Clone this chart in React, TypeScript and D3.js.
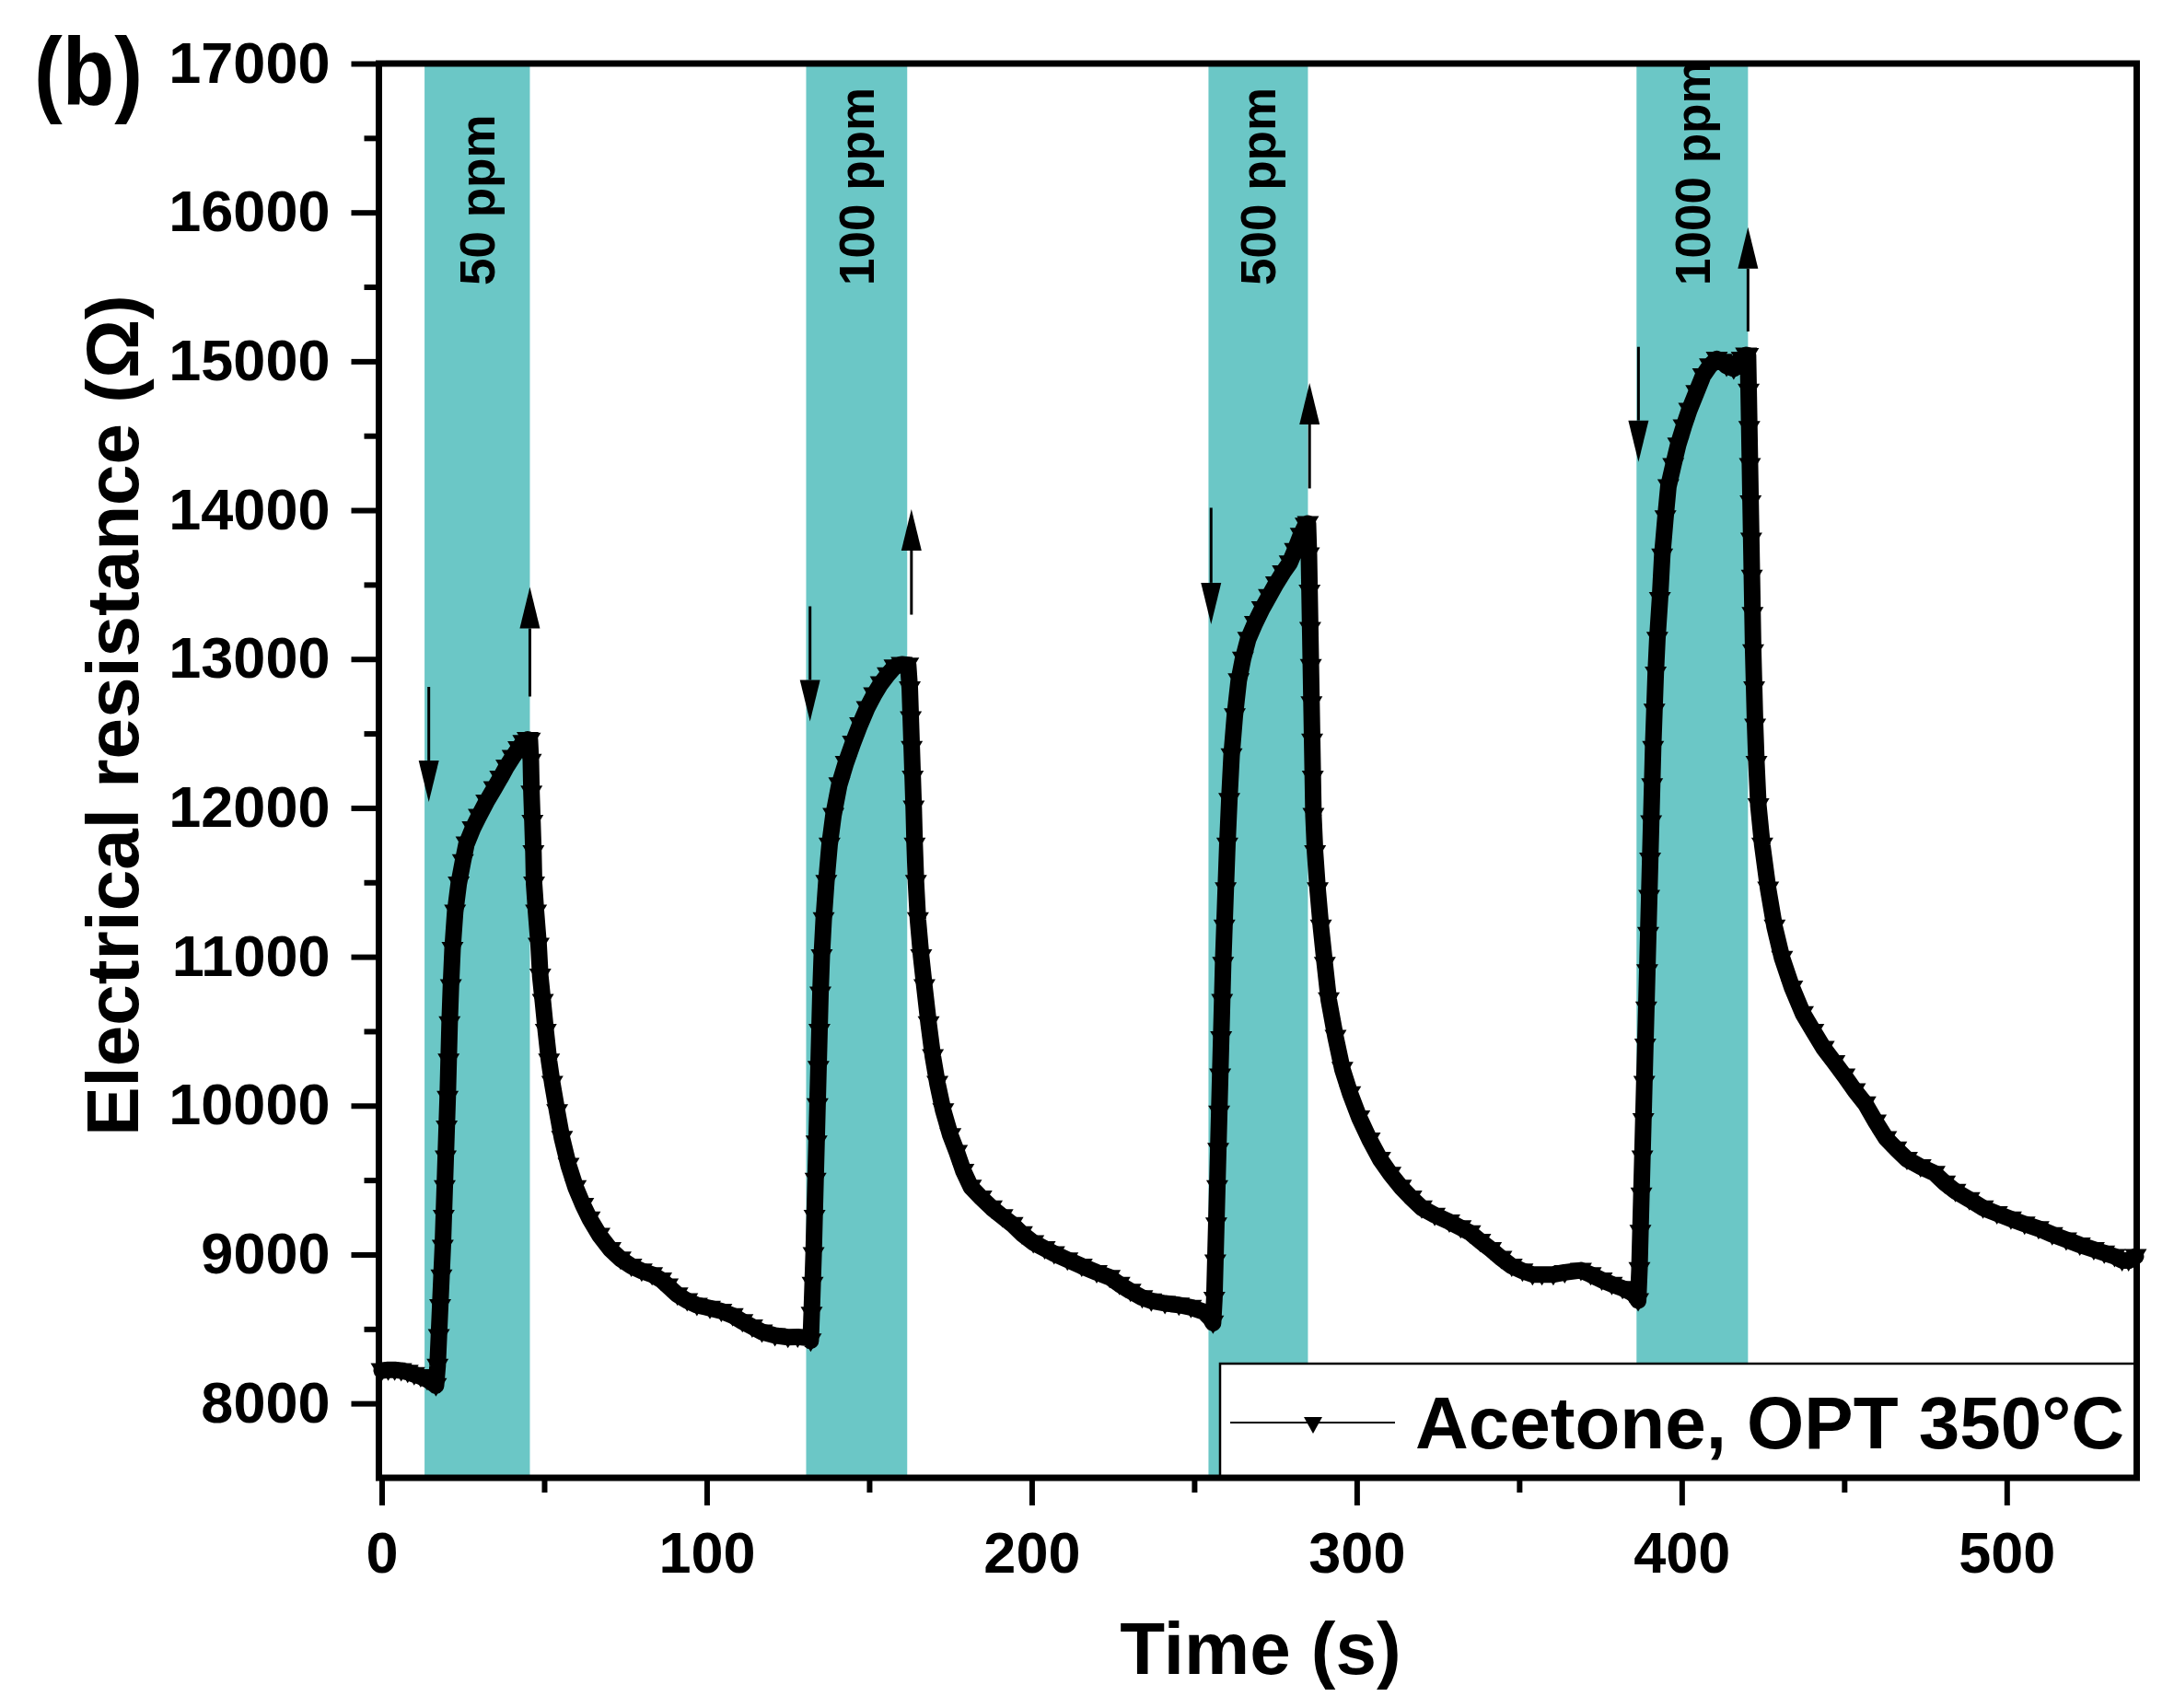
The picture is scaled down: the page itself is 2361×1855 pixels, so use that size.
import { useEffect, useRef } from 'react'
import * as d3 from 'd3'

// time (s) and resistance (Ω)
const times = [
  0, 2, 4, 6, 8, 10, 12, 14, 15.5, 16.7,
  17.2, 17.6, 18.0, 18.4, 18.8, 19.1, 19.4, 19.7, 20.0, 20.3, 20.6, 20.9, 21.3, 21.8, 22.6, 23.7,
  25.0, 26.1, 28.0, 29.9, 32.2, 34.6, 36.5, 38.4, 40.3, 42.1, 43.6, 44.9, 45.6,
  45.9, 46.1, 46.4, 46.7, 46.9, 47.5, 48.3, 48.8, 49.6, 50.5, 51.5, 52.5, 54.0, 55.5, 57.5, 59.7,
  62.0, 64.0, 67.0, 70.4, 73.5, 76.8, 80.0, 83.2, 86.0, 88.0, 91.0, 94.0, 97.0, 101, 104.5, 108,
  111, 114, 117, 121, 125, 128, 131, 132,
  132.3, 132.6, 132.9, 133.2, 133.5, 133.8, 134.1, 134.4, 134.7, 135.0, 135.4, 136.0, 136.8, 137.8,
  139.0, 140.8, 142.8, 145.0, 147.2, 149.3, 151.5, 153.6, 155.7, 157.8, 160.0, 162.0,
  162.5, 162.8, 163.1, 163.4, 163.7, 164.0, 164.4, 165.0, 166.0, 167.0, 168.3, 169.6, 171.0, 172.8,
  175.0, 177.0, 179.0, 181.3, 184.5, 187.7, 191.0, 194.1, 197.0, 200.5, 204.0, 206.9, 211.0, 215.4,
  220.0, 224.0, 227.0, 230.4, 234.0, 236.8, 241.0, 245.3, 249.0, 253.0, 255.0, 255.8,
  256.2, 256.5, 256.8, 257.1, 257.4, 257.7, 258.0, 258.3, 258.6, 258.9, 259.3, 259.7, 260.2, 260.8,
  261.5, 262.5, 263.7, 265.0, 266.6, 268.7, 270.9, 273.0, 275.2, 277.3, 279.4, 281.0, 282.8, 284.3, 285.0,
  285.3, 285.5, 285.7, 285.9, 286.1, 286.3, 286.5, 286.7, 287.2, 288.0, 289.0, 290.2, 291.4, 293.5,
  295.6, 298.0, 300.8, 304.0, 307.2, 310.4, 313.6, 316.8, 320.0, 324.0, 328.5, 332.0, 334.9, 338.0,
  341.3, 344.5, 347.7, 351.0, 354.1, 357.0, 360.5, 364.0, 369.0, 372.0, 375.4, 378.5, 381.8, 384.0,
  385.5, 386.6,
  387.0, 387.3, 387.6, 387.9, 388.2, 388.5, 388.8, 389.1, 389.4, 389.7, 390.0, 390.3, 390.6, 390.9,
  391.2, 391.6, 392.0, 392.5, 393.3, 394.0, 395.0, 395.9, 397.4, 398.9, 400.6, 402.3, 404.5, 406.6,
  408.7, 410.8, 412.3, 413.8, 416.0, 417.3, 418.5, 419.8, 420.4,
  420.6, 420.8, 421.0, 421.2, 421.4, 421.6, 421.8, 422.0, 422.3, 422.6, 423.0, 423.6, 424.8, 426.6,
  428.6, 430.9, 434.0, 437.3, 440.5, 443.7, 447.0, 450.1, 453.3, 456.5, 459.7, 462.9, 466.0, 469.3,
  473.5, 477.8, 481.0, 484.2, 488.5, 492.7, 497.0, 501.3, 505.5, 509.8, 514.0, 518.3, 522.5, 526.8,
  530.0, 533.2, 535.5, 537.5, 539.7,
]
const resistance = [
  8220, 8225, 8225, 8220, 8210, 8195, 8180, 8160, 8140, 8120,
  8250, 8450, 8650, 8850, 9050, 9250, 9450, 9650, 9850, 10050, 10300, 10550, 10800, 11050, 11300, 11490,
  11640, 11758, 11860, 11944, 12040, 12129, 12200, 12275, 12340, 12399, 12440, 12460, 12455,
  12314, 12100, 11904, 11700, 11490, 11300, 11078, 10871, 10700, 10500, 10300, 10150, 9960, 9780, 9600, 9450,
  9330, 9240, 9130, 9034, 8970, 8922, 8890, 8866, 8830, 8790, 8730, 8690, 8660, 8640, 8620, 8590,
  8550, 8515, 8480, 8456, 8445, 8447, 8440, 8420,
  8600, 8800, 9000, 9250, 9500, 9750, 10000, 10250, 10500, 10750, 11000, 11250, 11500, 11750,
  11950, 12155, 12300, 12435, 12560, 12668, 12760, 12835, 12895, 12947, 12965, 12960,
  12800, 12600, 12400, 12200, 12000, 11750, 11500, 11250, 11000, 10800, 10550, 10330, 10150, 9966,
  9800, 9686, 9560, 9453, 9380, 9313, 9255, 9202, 9140, 9080, 9040, 9006, 8965, 8922,
  8880, 8847, 8800, 8754, 8710, 8689, 8672, 8661, 8645, 8615, 8570, 8540,
  8700, 8950, 9200, 9450, 9700, 9950, 10200, 10450, 10700, 10950, 11200, 11450, 11750, 12050,
  12350, 12620, 12854, 13000, 13133, 13240, 13338, 13420, 13506, 13580, 13646, 13730, 13832, 13900, 13910,
  13700, 13450, 13200, 12950, 12700, 12450, 12200, 11950, 11700, 11450, 11200, 10950, 10711, 10460,
  10245, 10080, 9919, 9770, 9640, 9540, 9453, 9380, 9313, 9265, 9220, 9180, 9146, 9090,
  9034, 8975, 8922, 8890, 8866, 8866, 8866, 8880, 8894, 8865, 8829, 8800, 8773, 8750,
  8730, 8690,
  8900, 9150, 9400, 9650, 9900, 10150, 10400, 10650, 10900, 11150, 11400, 11650, 11900, 12150,
  12400, 12650, 12900, 13133, 13400, 13692, 13950, 14158, 14300, 14438, 14560, 14671, 14790, 14904,
  14970, 15015, 15000, 14969, 14950, 14990, 15015, 15043, 15040,
  14800, 14550, 14300, 14050, 13800, 13550, 13300, 13050, 12800, 12550, 12300, 12015, 11750, 11456,
  11200, 10990, 10790, 10618, 10500, 10385, 10290, 10199, 10100, 10012, 9890, 9779, 9710, 9640,
  9590, 9546, 9480, 9425, 9370, 9313, 9275, 9239, 9205, 9174, 9135, 9099, 9065, 9034,
  9010, 8987, 8960, 8959, 8987,
]

// gas exposure windows (s)
const bandLabels = ['50 ppm', '100 ppm', '500 ppm', '1000 ppm']
const bandStart = [13.2, 130.6, 254.4, 386.1]
const bandEnd = [45.6, 161.7, 285.0, 420.4]

// gas-in (down) and gas-out (up) arrows: time, tail, tip (Ω)
const downArrowT = [14.5, 131.8, 255.2, 386.7]
const downArrowFrom = [12813, 13354, 14016, 15097]
const downArrowTo = [12040, 12581, 13234, 14324]
const upArrowT = [45.6, 163, 285.5, 420.4]
const upArrowFrom = [12748, 13298, 14146, 15200]
const upArrowTo = [13484, 14007, 14854, 15901]

const xTicks = [0, 100, 200, 300, 400, 500]
const xMinorTicks = [50, 150, 250, 350, 450]
const yTicks = [8000, 9000, 10000, 11000, 12000, 13000, 14000, 15000, 16000, 17000]
const yMinorTicks = [8500, 9500, 10500, 11500, 12500, 13500, 14500, 15500, 16500]

const seriesName = 'Acetone, OPT 350°C'

const W = 2361
const H = 1855
const FONT = '"Liberation Sans", Arial, sans-serif'
const TEAL = '#6BC7C6'

export default function App() {
  const svgRef = useRef<SVGSVGElement | null>(null)

  useEffect(() => {
    if (!svgRef.current) return
    const svg = d3.select(svgRef.current)
    svg.selectAll('*').remove()

    const left = 411.5, right = 2320.5, top = 69, bottom = 1605
    const x = d3.scaleLinear().domain([-0.85, 540]).range([left, right])
    const y = d3.scaleLinear().domain([7500, 17000]).range([bottom, top])

    svg.append('rect').attr('width', W).attr('height', H).attr('fill', '#fff')

    // exposure bands
    bandStart.forEach((s, i) => {
      svg.append('rect')
        .attr('x', x(s)).attr('y', top)
        .attr('width', x(bandEnd[i]) - x(s)).attr('height', bottom - top)
        .attr('fill', TEAL)
    })
    bandLabels.forEach((lab, i) => {
      const xc = (x(bandStart[i]) + x(bandEnd[i])) / 2
      svg.append('text')
        .attr('transform', `translate(${xc + 19},310) rotate(-90)`)
        .attr('font-family', FONT).attr('font-weight', 'bold').attr('font-size', 53)
        .attr('fill', '#000')
        .text(lab)
    })

    // data curve: line + down-triangle markers
    const pts = times.map((t, i) => [t, resistance[i]] as [number, number])
    const line = d3.line<[number, number]>().x(d => x(d[0])).y(d => y(d[1]))
    svg.append('path').datum(pts)
      .attr('d', line).attr('fill', 'none').attr('stroke', '#000')
      .attr('stroke-width', 18).attr('stroke-linejoin', 'round').attr('stroke-linecap', 'round')
    const tri = 'M-12,-8L12,-8L0,12Z'
    svg.append('g').selectAll('path').data(pts).join('path')
      .attr('d', tri)
      .attr('transform', d => `translate(${x(d[0])},${y(d[1])})`)
      .attr('fill', '#000')

    // arrows
    const arrow = (t: number, from: number, to: number) => {
      const xa = x(t), y0 = y(from), y1 = y(to)
      const dir = y1 > y0 ? 1 : -1
      const headLen = 45, headW = 11
      const yb = y1 - dir * headLen
      svg.append('line').attr('x1', xa).attr('x2', xa).attr('y1', y0).attr('y2', yb)
        .attr('stroke', '#000').attr('stroke-width', 3)
      svg.append('path')
        .attr('d', `M${xa - headW},${yb}L${xa + headW},${yb}L${xa},${y1}Z`)
        .attr('fill', '#000')
    }
    downArrowT.forEach((t, i) => arrow(t, downArrowFrom[i], downArrowTo[i]))
    upArrowT.forEach((t, i) => arrow(t, upArrowFrom[i], upArrowTo[i]))

    // legend
    const lg = svg.append('g')
    lg.append('rect').attr('x', 1325).attr('y', 1481)
      .attr('width', right - 1325).attr('height', bottom - 1481)
      .attr('fill', '#fff').attr('stroke', '#000').attr('stroke-width', 2.5)
    lg.append('line').attr('x1', 1336).attr('x2', 1515).attr('y1', 1545).attr('y2', 1545)
      .attr('stroke', '#000').attr('stroke-width', 2)
    lg.append('path').attr('d', 'M-10,-6L10,-6L0,12Z').attr('transform', 'translate(1426,1545)').attr('fill', '#000')
    lg.append('text').attr('x', 1537).attr('y', 1573)
      .attr('font-family', FONT).attr('font-weight', 'bold').attr('font-size', 80)
      .text(seriesName)

    // axes
    const styleAxis = (g: d3.Selection<SVGGElement, unknown, null, undefined>) => {
      g.select('.domain').remove()
      g.selectAll('line').attr('stroke', '#000').attr('stroke-width', 6)
      g.selectAll('text').attr('font-family', FONT).attr('font-weight', 'bold')
        .attr('font-size', 63).attr('fill', '#000')
    }
    svg.append('g').attr('transform', `translate(0,${bottom})`)
      .call(d3.axisBottom(x).tickValues(xTicks).tickSize(30).tickPadding(28).tickFormat(d3.format('d')))
      .call(styleAxis)
    svg.append('g').attr('transform', `translate(0,${bottom})`)
      .call(d3.axisBottom(x).tickValues(xMinorTicks).tickSize(16).tickFormat(() => ''))
      .call(styleAxis)
    svg.append('g').attr('transform', `translate(${left},0)`)
      .call(d3.axisLeft(y).tickValues(yTicks).tickSize(30).tickPadding(23).tickFormat(d3.format('d')))
      .call(styleAxis)
      .selectAll('text').attr('dy', '0.32em')
    svg.append('g').attr('transform', `translate(${left},0)`)
      .call(d3.axisLeft(y).tickValues(yMinorTicks).tickSize(16).tickFormat(() => ''))
      .call(styleAxis)

    // frame
    svg.append('rect').attr('x', left).attr('y', top)
      .attr('width', right - left).attr('height', bottom - top)
      .attr('fill', 'none').attr('stroke', '#000').attr('stroke-width', 7)

    // titles
    svg.append('text').attr('x', (left + right) / 2 + 3).attr('y', 1818)
      .attr('text-anchor', 'middle').attr('font-family', FONT).attr('font-weight', 'bold')
      .attr('font-size', 80).text('Time (s)')
    svg.append('text').attr('transform', 'translate(150,777) rotate(-90)')
      .attr('text-anchor', 'middle').attr('font-family', FONT).attr('font-weight', 'bold')
      .attr('font-size', 80).text('Electrical resistance (Ω)')
    svg.append('text').attr('x', 37).attr('y', 113)
      .attr('font-family', FONT).attr('font-weight', 'bold').attr('font-size', 104)
      .attr('textLength', 118).attr('lengthAdjust', 'spacingAndGlyphs')
      .text('(b)')
  }, [])

  return (
    <svg ref={svgRef} width={W} height={H} viewBox={`0 0 ${W} ${H}`}
      style={{ position: 'absolute', left: 0, top: 0, display: 'block' }} />
  )
}
